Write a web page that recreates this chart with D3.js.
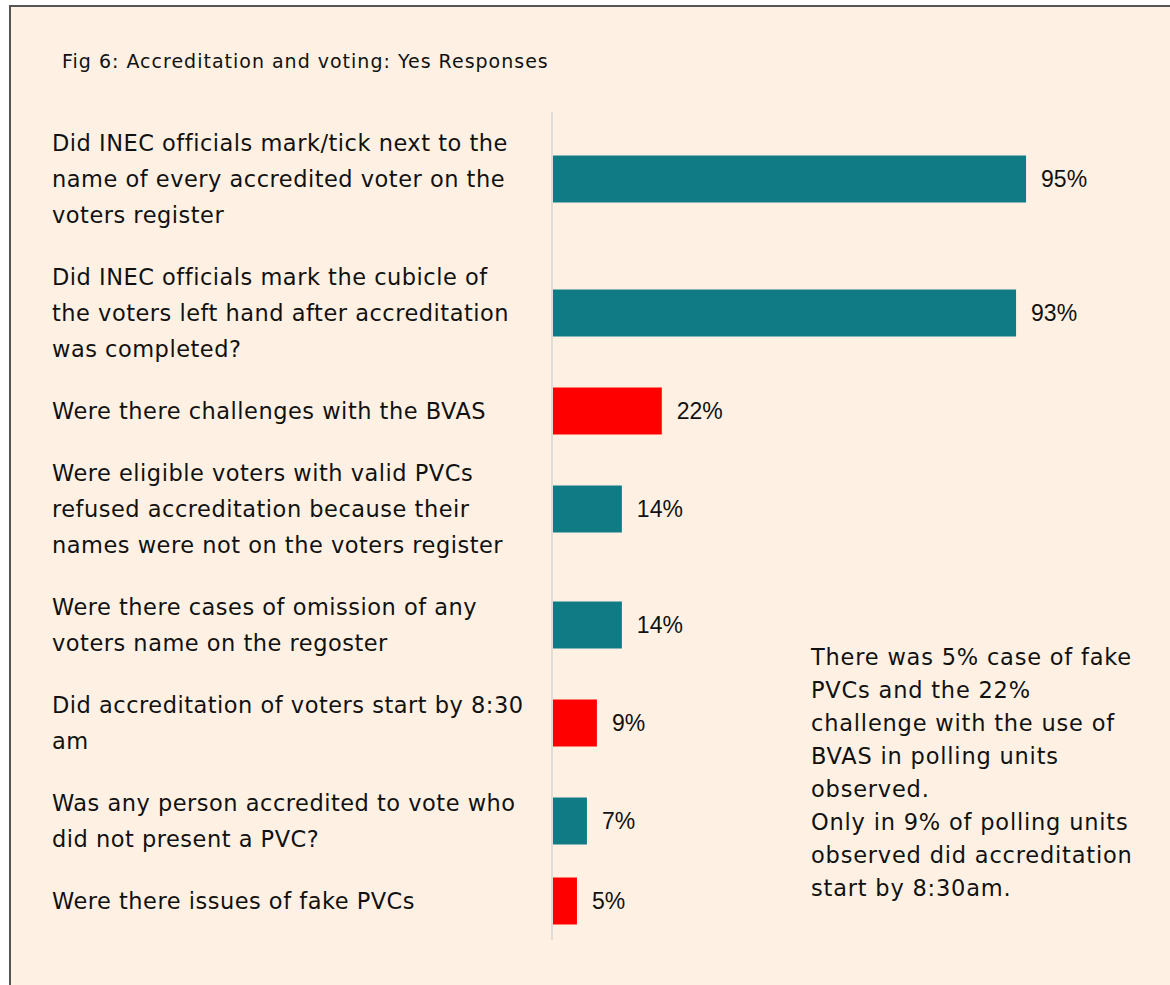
<!DOCTYPE html>
<html>
<head>
<meta charset="utf-8">
<script src="https://cdn.jsdelivr.net/npm/d3@7"></script>
<style>
  html, body { margin: 0; padding: 0; background: #fff; }
  #chart { width: 1170px; height: 985px; }
</style>
</head>
<body>
<div id="chart"></div>
<script>
const SIZE = { width: 1170, height: 985 }

const title = 'Fig 6: Accreditation and voting: Yes Responses'

const questions = [
  ['Did INEC officials mark/tick next to the', 'name of every accredited voter on the', 'voters register'],
  ['Did INEC officials mark the cubicle of', 'the voters left hand after accreditation', 'was completed?'],
  ['Were there challenges with the BVAS'],
  ['Were eligible voters with valid PVCs', 'refused accreditation because their', 'names were not on the voters register'],
  ['Were there cases of omission of any', 'voters name on the regoster'],
  ['Did accreditation of voters start by 8:30', 'am'],
  ['Was any person accredited to vote who', 'did not present a PVC?'],
  ['Were there issues of fake PVCs'],
]

const yesValues = [95, 93, 22, 14, 14, 9, 7, 5]

// red = issue questions, teal = procedure questions
const flagged = [false, false, true, false, false, true, false, true]

const noteLines = [
  'There was 5% case of fake',
  'PVCs and the 22%',
  'challenge with the use of',
  'BVAS in polling units',
  'observed.',
  'Only in 9% of polling units',
  'observed did accreditation',
  'start by 8:30am.',
]

const COLORS = { teal: '#107a85', red: '#ff0000', bg: '#fef1e4', text: '#111' }
const FONT = '"DejaVu Sans", sans-serif'

function defineSVG (params) {
  const { selector, size } = params
  const svg = d3.select(selector)
    .append('svg')
    .attr('width', size.width)
    .attr('height', size.height)

  svg.append('rect')
    .attr('x', 10)
    .attr('y', 6)
    .attr('width', size.width)
    .attr('height', size.height)
    .attr('fill', COLORS.bg)
    .attr('stroke', '#555')
    .attr('stroke-width', 2)

  return svg
}

// each row is as tall as its wrapped label plus a gap
function rowLayout (params) {
  const { labels, top, lineHeight, gap } = params
  const heights = labels.map(l => l.length * lineHeight + gap)
  const ends = d3.cumsum(heights)
  return labels.map((l, i) => {
    const y0 = top + ends[i] - heights[i]
    return { y0, y1: top + ends[i], cy: y0 + heights[i] / 2 }
  })
}

function drawBars (params) {
  const { container, rows, x, barHeight } = params
  const data = yesValues.map((v, i) => ({ v, i, row: rows[i] }))

  const nodes = container.selectAll('g.bar')
    .data(data)
    .enter()
    .append('g')
    .attr('class', 'bar')
    .attr('transform', d => `translate(0,${d.row.cy})`)

  nodes.append('rect')
    .attr('x', x(0))
    .attr('y', -barHeight / 2)
    .attr('width', d => x(d.v) - x(0))
    .attr('height', barHeight)
    .attr('fill', d => flagged[d.i] ? COLORS.red : COLORS.teal)

  nodes.append('text')
    .attr('x', d => x(d.v) + 15)
    .attr('dy', '0.35em')
    .attr('font-family', '"Liberation Sans", Arial, sans-serif')
    .attr('font-size', 23)
    .attr('fill', COLORS.text)
    .text(d => `${d.v}%`)

  return nodes
}

function drawLabels (params) {
  const { container, rows, left, lineHeight } = params
  const groups = container.selectAll('text.q')
    .data(questions)
    .enter()
    .append('text')
    .attr('class', 'q')
    .attr('x', left)
    .attr('font-family', FONT)
    .attr('font-size', 22.5)
    .attr('letter-spacing', 0.5)
    .attr('fill', COLORS.text)

  groups.each(function (lines, i) {
    const first = rows[i].cy - (lines.length - 1) * lineHeight / 2
    d3.select(this).selectAll('tspan')
      .data(lines)
      .enter()
      .append('tspan')
      .attr('x', left)
      .attr('y', (d, j) => first + j * lineHeight)
      .attr('dy', '0.35em')
      .text(d => d)
  })
}

const svg = defineSVG({ selector: '#chart', size: SIZE })

svg.append('text')
  .attr('x', 62)
  .attr('y', 68)
  .attr('font-family', FONT)
  .attr('font-size', 19)
  .attr('letter-spacing', 1)
  .attr('fill', COLORS.text)
  .text(title)

const lineHeight = 36
const rows = rowLayout({ labels: questions, top: 112, lineHeight, gap: 26 })

const x = d3.scaleLinear()
  .domain([0, 100])
  .range([552, 1051])

const chart = svg.append('g').attr('class', 'chart bar-chart')

drawBars({ container: chart, rows, x, barHeight: 47 })

chart.append('line')
  .attr('x1', x(0))
  .attr('x2', x(0))
  .attr('y1', rows[0].y0)
  .attr('y2', rows[rows.length - 1].y1 + 8)
  .attr('stroke', '#e2dcd6')
  .attr('stroke-width', 2)

drawLabels({ container: chart, rows, left: 52, lineHeight })

svg.append('text')
  .attr('font-family', FONT)
  .attr('font-size', 22.5)
  .attr('letter-spacing', 0.8)
  .attr('fill', COLORS.text)
  .selectAll('tspan')
  .data(noteLines)
  .enter()
  .append('tspan')
  .attr('x', 811)
  .attr('y', (d, i) => 665 + i * 33)
  .text(d => d)
</script>
</body>
</html>
